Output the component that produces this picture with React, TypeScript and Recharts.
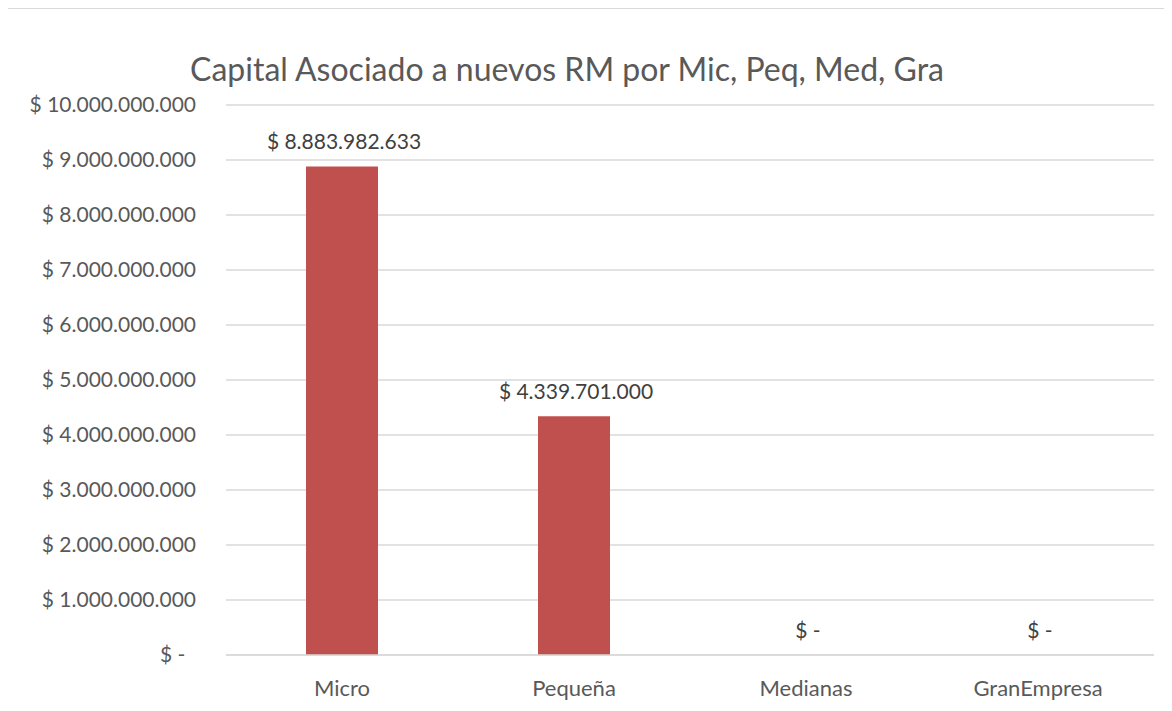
import React from "react";
import { ComposedChart, Bar, Line, XAxis, YAxis, CartesianGrid } from "recharts";

const categories = ["Micro", "Pequeña", "Medianas", "GranEmpresa"];
const capital = [8883982633, 4339701000, 0, 0];
const yTicks = [0, 1e9, 2e9, 3e9, 4e9, 5e9, 6e9, 7e9, 8e9, 9e9, 1e10];
const title = "Capital Asociado a nuevos RM por Mic, Peq, Med, Gra";

const data = categories.map((c, i) => ({ name: c, value: capital[i] }));

const FONT = "Lato, 'Open Sans', sans-serif";
const TXT = "#595959";

const fmtNum = (v: number) =>
  Math.round(v)
    .toString()
    .replace(/\B(?=(\d{3})+(?!\d))/g, ".");

const fmtAxis = (v: number) => (v === 0 ? "$ -\u00A0\u00A0" : "$ " + fmtNum(v));
const fmtLabel = (v: number) => (v === 0 ? "$ -" : "$ " + fmtNum(v));

const renderValueLabel = (props: any) => {
  const { x, y, value, index } = props;
  return (
    <text
      key={"lbl" + index}
      x={x + 2}
      y={y - 17}
      textAnchor="middle"
      fill="#404040"
      fontSize={21}
      fontFamily={FONT}
    >
      {fmtLabel(Number(value))}
    </text>
  );
};

export default function App() {
  return (
    <div
      style={{
        position: "relative",
        width: 1156,
        height: 694,
        overflow: "hidden",
        borderLeft: "1px solid #D4D4D4",
        borderTop: "1px solid #D9D9D9",
        marginLeft: -1,
        background: "#fff",
        fontFamily: FONT,
      }}
    >
      <div
        style={{
          position: "absolute",
          left: 0,
          width: 1118,
          top: 38,
          textAlign: "center",
          fontSize: 32,
          color: TXT,
          fontFamily: FONT,
          lineHeight: "44px",
        }}
      >
        {title}
      </div>
      <ComposedChart
        width={1155}
        height={694}
        data={data}
        margin={{ top: 96, right: 9, bottom: 8, left: 0 }}
        barCategoryGap={80}
      >
        <CartesianGrid vertical={false} stroke="#D9D9D9" strokeWidth={1.5} />
        <XAxis
          dataKey="name"
          axisLine={{ stroke: "#D9D9D9", strokeWidth: 1.5 }}
          tickLine={false}
          tickSize={0}
          tickMargin={25}
          height={40}
          tick={{ fill: TXT, fontSize: 22, fontFamily: FONT }}
        />
        <YAxis
          width={218}
          domain={[0, 1e10]}
          ticks={yTicks}
          interval={0}
          axisLine={false}
          tickLine={false}
          tickSize={0}
          tickMargin={30}
          tickFormatter={fmtAxis}
          tick={{ fill: TXT, fontSize: 21, fontFamily: FONT }}
        />
        <Bar dataKey="value" fill="#C0504D" isAnimationActive={false} />
        <Line
          dataKey="value"
          stroke="none"
          dot={false}
          activeDot={false}
          legendType="none"
          isAnimationActive={false}
          label={renderValueLabel}
        />
      </ComposedChart>
    </div>
  );
}
